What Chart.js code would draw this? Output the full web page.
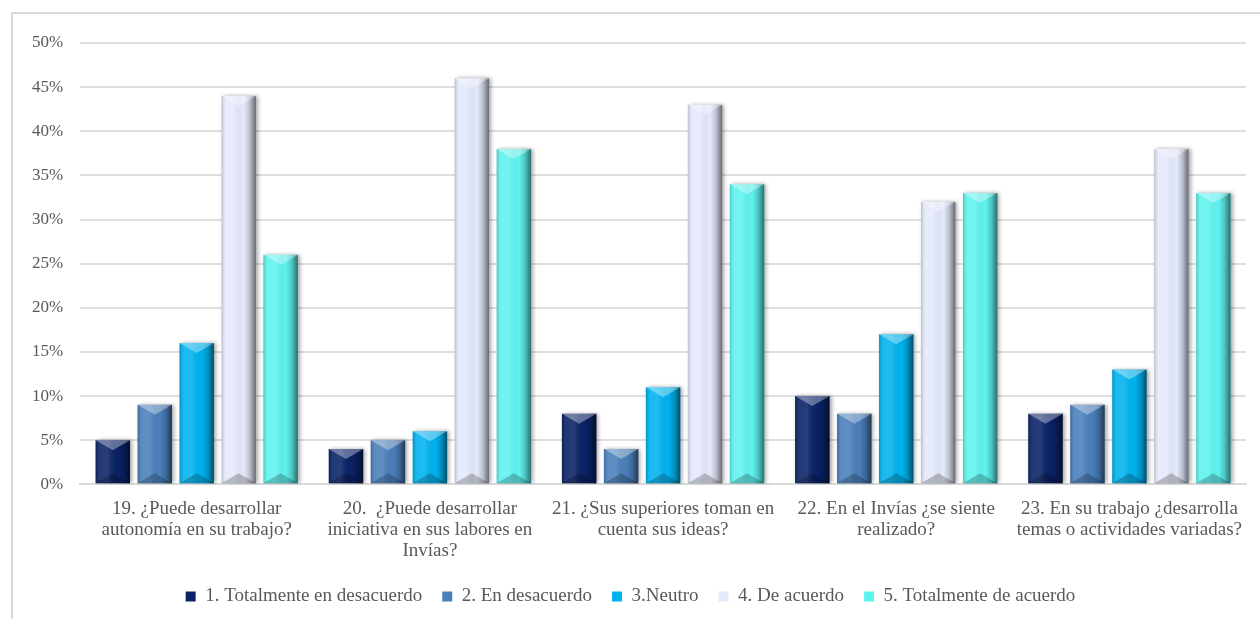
<!DOCTYPE html>
<html>
<head>
<meta charset="utf-8">
<script src="https://cdn.jsdelivr.net/npm/chart.js@4.4.0/dist/chart.umd.min.js"></script>
<style>
  html, body { margin: 0; padding: 0; background: #fff; overflow: hidden; }
  #marco { position: absolute; left: 11px; top: 12px; width: 1300px; height: 700px;
           border-top: 2px solid #d9d9d9; border-left: 2px solid #d9d9d9; }
  #caja { position: absolute; left: 0; top: 0; width: 1260px; height: 619px; }
</style>
</head>
<body>
<div id="marco"></div>
<div id="caja"><canvas id="grafico" width="1260" height="619"></canvas></div>
<script>
// preguntas del eje x (ya partidas en renglones)
var preguntas = [
    ['19. ¿Puede desarrollar', 'autonomía en su trabajo?'],
    ['20.  ¿Puede desarrollar', 'iniciativa en sus labores en', 'Invías?'],
    ['21. ¿Sus superiores toman en', 'cuenta sus ideas?'],
    ['22. En el Invías ¿se siente', 'realizado?'],
    ['23. En su trabajo ¿desarrolla', 'temas o actividades variadas?']
];

var totalDesacuerdo = [5, 4, 8, 10, 8];
var desacuerdo = [9, 5, 4, 8, 9];
var neutro = [16, 6, 11, 17, 13];
var deAcuerdo = [44, 46, 43, 32, 38];
var totalAcuerdo = [26, 38, 34, 33, 33];

var ticksY = [0, 5, 10, 15, 20, 25, 30, 35, 40, 45, 50];

var gris = '#595959';
var fuente = 'Liberation Serif';

// sombra suave a la derecha de cada barra
var sombraBarras = {
    id: 'sombraBarras',
    beforeDatasetDraw: function (chart) {
        var ctx = chart.ctx;
        ctx.save();
        ctx.shadowColor = 'rgba(0,0,0,0.35)';
        ctx.shadowBlur = 4;
        ctx.shadowOffsetX = 2;
        ctx.shadowOffsetY = 0;
    },
    afterDatasetDraw: function (chart) {
        chart.ctx.restore();
    }
};

// efecto de bisel sobre las barras ya dibujadas
var biselBarras = {
    id: 'biselBarras',
    afterDatasetsDraw: function (chart) {
        var ctx = chart.ctx;
        chart.data.datasets.forEach(function (ds, i) {
            var meta = chart.getDatasetMeta(i);
            meta.data.forEach(function (bar) {
                var izq = bar.x - bar.width / 2;
                var der = bar.x + bar.width / 2;
                var arriba = bar.y;
                var abajo = bar.base;
                var d = Math.min(10, (abajo - arriba) / 2);
                ctx.save();
                var g = ctx.createLinearGradient(izq, 0, der, 0);
                g.addColorStop(0, 'rgba(0,0,0,0.18)');
                g.addColorStop(0.12, 'rgba(255,255,255,0.10)');
                g.addColorStop(0.35, 'rgba(255,255,255,0.12)');
                g.addColorStop(0.65, 'rgba(0,0,0,0)');
                g.addColorStop(0.82, 'rgba(0,0,0,0.18)');
                g.addColorStop(1, 'rgba(0,0,0,0.55)');
                ctx.fillStyle = g;
                ctx.fillRect(izq, arriba, bar.width, abajo - arriba);

                // bisel superior claro
                ctx.fillStyle = 'rgba(255,255,255,0.35)';
                ctx.beginPath();
                ctx.moveTo(izq, arriba);
                ctx.lineTo(der, arriba);
                ctx.lineTo(bar.x, arriba + d);
                ctx.closePath();
                ctx.fill();

                // bisel inferior oscuro
                ctx.fillStyle = 'rgba(0,0,0,0.22)';
                ctx.beginPath();
                ctx.moveTo(izq, abajo);
                ctx.lineTo(der, abajo);
                ctx.lineTo(bar.x, abajo - d);
                ctx.closePath();
                ctx.fill();
                ctx.restore();
            });
        });
    }
};

var ctx = document.getElementById('grafico');

var chart = new Chart(ctx, {
    type: 'bar',
    data: {
        labels: preguntas,
        datasets: [
            { label: '1. Totalmente en desacuerdo', data: totalDesacuerdo, backgroundColor: '#0a2266' },
            { label: '2. En desacuerdo', data: desacuerdo, backgroundColor: '#4a7fbb' },
            { label: '3.Neutro', data: neutro, backgroundColor: '#00b2ee' },
            { label: '4. De acuerdo', data: deAcuerdo, backgroundColor: '#e4e9fb' },
            { label: '5. Totalmente de acuerdo', data: totalAcuerdo, backgroundColor: '#5ff3ef' }
        ]
    },
    plugins: [sombraBarras, biselBarras],
    options: {
        responsive: false,
        animation: false,
        layout: { padding: { top: 43, left: 15, right: 14, bottom: 3 } },
        datasets: {
            bar: { categoryPercentage: 0.9, barPercentage: 0.82 }
        },
        scales: {
            x: {
                grid: { display: false },
                border: { color: '#d9d9d9', width: 2 },
                ticks: {
                    color: gris,
                    font: { family: fuente, size: 19, lineHeight: 1.1 },
                    maxRotation: 0,
                    autoSkip: false,
                    padding: 6
                }
            },
            y: {
                min: 0,
                max: 50,
                afterBuildTicks: function (eje) {
                    eje.ticks = ticksY.map(function (v) { return { value: v }; });
                },
                grid: { color: '#dedede', lineWidth: 2, drawTicks: false },
                border: { display: false },
                ticks: {
                    color: gris,
                    font: { family: fuente, size: 17 },
                    padding: 17,
                    callback: function (v) { return v + '%'; }
                }
            }
        },
        plugins: {
            legend: {
                position: 'bottom',
                labels: {
                    color: gris,
                    font: { family: fuente, size: 19 },
                    boxWidth: 10,
                    boxHeight: 10,
                    padding: 20
                }
            },
            tooltip: { enabled: false }
        }
    }
});
</script>
</body>
</html>
